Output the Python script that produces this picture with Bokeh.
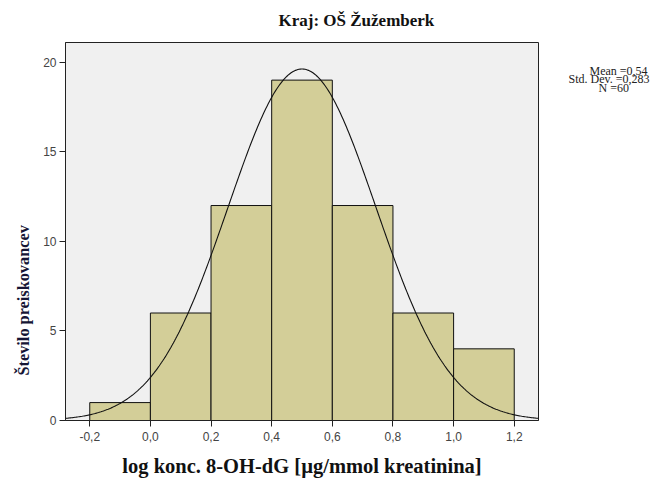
import numpy as np
from bokeh.plotting import figure
from bokeh.models import (Range1d, FixedTicker, CustomJSTickFormatter, Title,
                          LinearAxis, AllLabels)
from bokeh.embed import file_html
from bokeh.resources import INLINE

# Data
bin_left = [-0.2, 0.0, 0.2, 0.4, 0.6, 0.8, 1.0]
bin_right = [0.0, 0.2, 0.4, 0.6, 0.8, 1.0, 1.2]
counts = [1, 6, 12, 19, 12, 6, 4]
x_ticks = [-0.2, 0.0, 0.2, 0.4, 0.6, 0.8, 1.0, 1.2]
y_ticks = [0, 5, 10, 15, 20]
stats_lines = ["Mean =0,54", "Std. Dev. =0,283", "N =60"]
title_text = "Kraj: OŠ Žužemberk"
x_label = "log konc. 8-OH-dG [µg/mmol kreatinina]"
y_label = "Število preiskovancev"
# normal curve as drawn in the picture
curve_mean = 0.5
curve_sd = 0.244
n_total = 60
bin_width = 0.2

p = figure(width=670, height=481, output_backend="svg", toolbar_location=None,
           x_range=Range1d(-0.28, 1.28), y_range=Range1d(0, 21.1),
           min_border_left=65, min_border_right=132, min_border_top=42,
           min_border_bottom=61)
p.background_fill_color = "#f0f0f0"
p.border_fill_color = "white"
p.outline_line_color = "#222222"
p.outline_line_width = 1
p.xgrid.visible = False
p.ygrid.visible = False

p.title.text = title_text
p.title.align = "left"
p.title.vertical_align = "top"
p.title.offset = 213
p.title.standoff = 21
p.title.text_font = "Liberation Serif"
p.title.text_font_style = "bold"
p.title.text_font_size = "17px"
p.title.text_color = "#111111"

p.quad(left=bin_left, right=bin_right, top=counts, bottom=0,
       fill_color="#d3ce98", line_color="#111111", line_width=1)

xs = np.linspace(-0.28, 1.28, 400)
ys = n_total * bin_width / (curve_sd * np.sqrt(2 * np.pi)) * np.exp(-0.5 * ((xs - curve_mean) / curve_sd) ** 2)
p.line(xs, ys, line_color="#111111", line_width=1.1)

fmt_x = CustomJSTickFormatter(code="return tick.toFixed(1).replace('.', ',');")
fmt_y = CustomJSTickFormatter(code="return tick.toFixed(0);")

for ax in (p.xaxis[0], p.yaxis[0]):
    ax.axis_line_color = "#222222"
    ax.major_tick_line_color = "#222222"
    ax.minor_tick_line_color = None
    ax.major_tick_in = 0
    ax.major_tick_out = 6
    ax.major_label_text_font = "Liberation Sans"
    ax.major_label_text_font_size = "12px"
    ax.major_label_text_color = "#444444"

p.xaxis.ticker = FixedTicker(ticks=x_ticks)
p.xaxis.formatter = fmt_x
p.xaxis.major_label_standoff = 5
p.xaxis.axis_label = x_label
p.xaxis.axis_label_text_font = "Liberation Serif"
p.xaxis.axis_label_text_font_style = "bold"
p.xaxis.axis_label_text_font_size = "20.5px"
p.xaxis.axis_label_text_color = "#111111"
p.xaxis.axis_label_standoff = 11

p.yaxis.ticker = FixedTicker(ticks=y_ticks)
p.yaxis.formatter = fmt_y
p.yaxis.major_label_standoff = 3

ytitle = Title(text=y_label, align="left", vertical_align="top", offset=45, standoff=12,
               text_font="Liberation Serif", text_font_style="bold",
               text_font_size="16.3px", text_color="#151535")
p.add_layout(ytitle, "left")

# statistics text, drawn as tick labels of a bare axis on the right
nb = "\u00a0"
stats_display = [nb * 7 + stats_lines[0], stats_lines[1], nb * 10 + stats_lines[2]]
stats_pos = [19.52, 19.04, 18.56]   # vertical slots of the three lines
stats_fmt = CustomJSTickFormatter(args=dict(pos=stats_pos, labels=stats_display), code="""
let best = 0;
for (let i = 0; i < pos.length; i++) {
  if (Math.abs(pos[i] - tick) < Math.abs(pos[best] - tick)) best = i;
}
return labels[best];
""")
stats_axis = LinearAxis(ticker=FixedTicker(ticks=stats_pos), formatter=stats_fmt,
                        major_label_policy=AllLabels(),
                        axis_line_color=None, major_tick_line_color=None,
                        minor_tick_line_color=None, major_tick_in=0, major_tick_out=0,
                        major_label_standoff=30,
                        major_label_text_font="Liberation Serif",
                        major_label_text_font_size="12px",
                        major_label_text_color="#222222")
p.add_layout(stats_axis, "right")

open("out.html", "w").write(file_html(p, INLINE))
